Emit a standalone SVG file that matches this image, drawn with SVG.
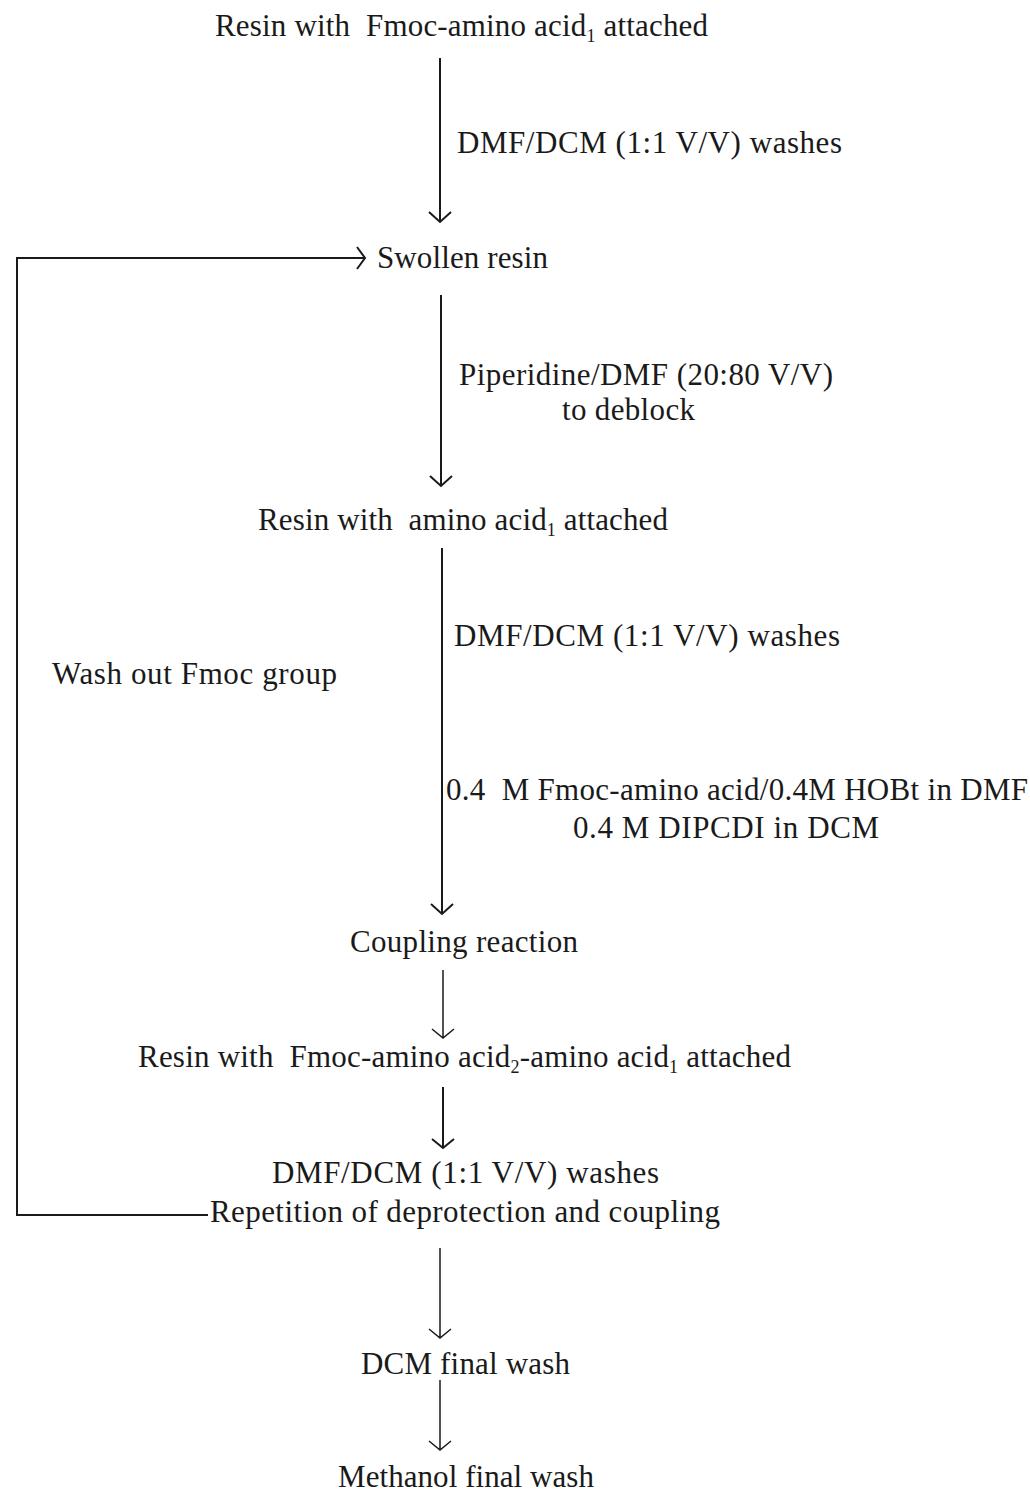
<svg xmlns="http://www.w3.org/2000/svg" width="1030" height="1494" viewBox="0 0 1030 1494">
<style>
text{font-family:"Liberation Serif","Times New Roman",serif;font-size:31px;fill:#1a1a1a;white-space:pre}
.sub{font-size:18px}
.ln{stroke:#1a1a1a;stroke-width:2;fill:none}
.thin{stroke:#1a1a1a;stroke-width:1.5;fill:none}
</style>
<rect width="1030" height="1494" fill="#fff"/>
<g id="connectors">
<path class="ln" d="M440 58V222M429 212L440 222L451 212"/>
<path class="ln" d="M441 295V486M430 476L441 486L452 476"/>
<path class="ln" d="M442 548V914M431 904L442 914L453 904"/>
<path class="thin" d="M443 970V1038M432 1029L443 1038L454 1029"/>
<path class="ln" d="M443 1087V1148M432 1139L443 1148L454 1139"/>
<path class="thin" d="M440 1248V1338M429 1329L440 1338L451 1329"/>
<path class="thin" d="M440 1380V1450M429 1441L440 1450L451 1441"/>
<path class="ln" d="M208 1215H17V258H364M357 247L365 258L357 269"/>
</g>
<g id="n1"><text xml:space="preserve" x="215" y="36" textLength="493">Resin with  Fmoc-amino acid<tspan class="sub" dy="6">1</tspan><tspan dy="-6"> attached</tspan></text></g>
<g id="l1"><text x="457" y="153" textLength="385">DMF/DCM (1:1 V/V) washes</text></g>
<g id="n2"><text x="377" y="268" textLength="171">Swollen resin</text></g>
<g id="l2"><text x="459" y="385" textLength="374">Piperidine/DMF (20:80 V/V)</text><text x="562" y="420" textLength="133">to deblock</text></g>
<g id="n3"><text xml:space="preserve" x="258" y="530" textLength="410">Resin with  amino acid<tspan class="sub" dy="6">1</tspan><tspan dy="-6"> attached</tspan></text></g>
<g id="l3"><text x="454" y="646" textLength="386">DMF/DCM (1:1 V/V) washes</text></g>
<g id="l4"><text x="52" y="684" textLength="285">Wash out Fmoc group</text></g>
<g id="l5"><text xml:space="preserve" x="446" y="800" textLength="582">0.4  M Fmoc-amino acid/0.4M HOBt in DMF</text><text x="573" y="838" textLength="306">0.4 M DIPCDI in DCM</text></g>
<g id="n4"><text x="350" y="952" textLength="228">Coupling reaction</text></g>
<g id="n5"><text xml:space="preserve" x="138" y="1067" textLength="653">Resin with  Fmoc-amino acid<tspan class="sub" dy="6">2</tspan><tspan dy="-6">-amino acid</tspan><tspan class="sub" dy="6">1</tspan><tspan dy="-6"> attached</tspan></text></g>
<g id="n6"><text x="272" y="1183" textLength="387">DMF/DCM (1:1 V/V) washes</text><text x="210" y="1222" textLength="510">Repetition of deprotection and coupling</text></g>
<g id="n7"><text x="361" y="1374" textLength="209">DCM final wash</text></g>
<g id="n8"><text x="338" y="1487" textLength="256">Methanol final wash</text></g>
</svg>
